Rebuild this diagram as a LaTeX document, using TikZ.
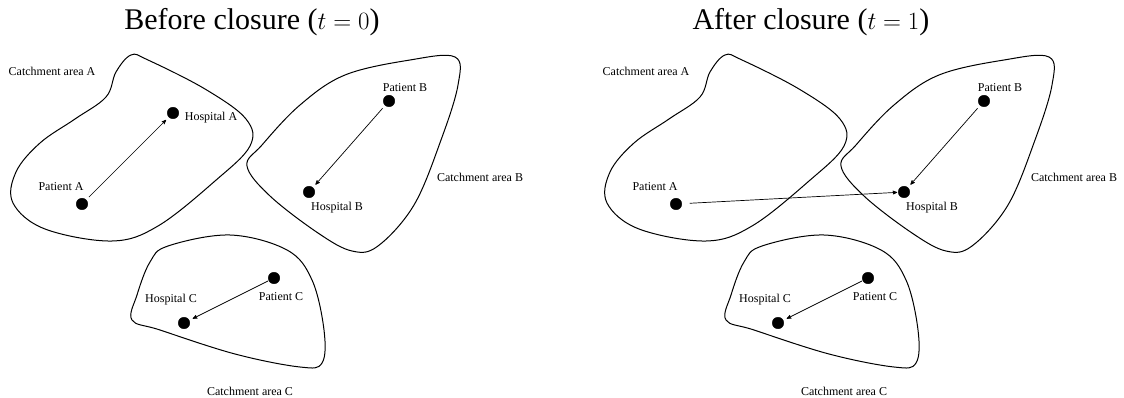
\documentclass[tikz,border=0pt]{standalone}
\usepackage{fontspec}
\setmainfont{Liberation Serif}
\usepackage{tikz}
\usetikzlibrary{arrows}
\tikzset{
  title/.style = {font=\fontsize{30}{36}\selectfont, inner sep=0pt},
  lbl/.style = {font=\fontsize{12}{14}\selectfont, inner sep=0pt},
  dot/.style = {circle, fill=black, draw=black, minimum size=11.5pt, inner sep=0pt, outer sep=0pt},
  area/.style = {line width=1pt, smooth cycle, tension=0.6},
  flow/.style = {->, >=stealth', line width=0.7pt, shorten >=4pt, shorten <=4pt}
}
\begin{document}
\begin{tikzpicture}[x=1pt,y=-1pt]
    \useasboundingbox (0,0) rectangle (1124,398);
    % before closure
    \node [title] (t0) at (252,22) {Before closure ($t=0$)};
    \draw [area] plot coordinates {(131,55) (116,72) (106,97) (75,119) (40,143) (16,172) (13,203) (45,229) (112,241) (158,226) (215,181) (250,146) (246,119) (205,89) (148,60)};
    \draw [area] plot coordinates {(455,57) (458,85) (441,140) (414,205) (378,246) (352,251) (318,233) (270,196) (247,166) (262,145) (300,105) (345,75) (410,60)};
    \draw [area] plot coordinates {(168,246) (230,235) (287,250) (312,280) (324,330) (322,363) (300,367) (235,354) (160,330) (132,320) (137,295) (150,262)};
    \node [lbl] (cA) at (52,71) {Catchment area A};
    \node [lbl] (cB) at (480,177) {Catchment area B};
    \node [lbl] (cC) at (250,391) {Catchment area C};
    \node [dot] (hA) at (173,113) {};
    \node [dot] (pA) at (82,204) {};
    \node [dot] (hB) at (309,192) {};
    \node [dot] (pB) at (389,101) {};
    \node [dot] (hC) at (184,323) {};
    \node [dot] (pC) at (274,278) {};
    \node [lbl] at ([shift={(38,5)}]hA) {Hospital A};
    \node [lbl] at ([shift={(-21,-17)}]pA) {Patient A};
    \node [lbl] at ([shift={(28,16)}]hB) {Hospital B};
    \node [lbl] at ([shift={(16,-13)}]pB) {Patient B};
    \node [lbl] at ([shift={(-13,-23)}]hC) {Hospital C};
    \node [lbl] at ([shift={(7,19)}]pC) {Patient C};
    \draw [flow] (pA) -- (hA);
    \draw [flow] (pB) -- (hB);
    \draw [flow, shorten <=1pt] (pC) -- (hC);
    % after closure
    \begin{scope}[xshift=594pt]
    \node [title] (t1) at (217,22) {After closure ($t=1$)};
    \draw [area] plot coordinates {(131,55) (116,72) (106,97) (75,119) (40,143) (16,172) (13,203) (45,229) (112,241) (158,226) (215,181) (250,146) (246,119) (205,89) (148,60)};
    \draw [area] plot coordinates {(455,57) (458,85) (441,140) (414,205) (378,246) (352,251) (318,233) (270,196) (247,166) (262,145) (300,105) (345,75) (410,60)};
    \draw [area] plot coordinates {(168,246) (230,235) (287,250) (312,280) (324,330) (322,363) (300,367) (235,354) (160,330) (132,320) (137,295) (150,262)};
    \node [lbl] (cA2) at (52,71) {Catchment area A};
    \node [lbl] (cB2) at (480,177) {Catchment area B};
    \node [lbl] (cC2) at (250,391) {Catchment area C};
    \node [dot] (pA2) at (82,204) {};
    \node [dot] (hB2) at (310,192) {};
    \node [dot] (pB2) at (390,101) {};
    \node [dot] (hC2) at (184,323) {};
    \node [dot] (pC2) at (274,278) {};
    \node [lbl] at ([shift={(-21,-17)}]pA2) {Patient A};
    \node [lbl] at ([shift={(28,16)}]hB2) {Hospital B};
    \node [lbl] at ([shift={(16,-13)}]pB2) {Patient B};
    \node [lbl] at ([shift={(-13,-23)}]hC2) {Hospital C};
    \node [lbl] at ([shift={(7,19)}]pC2) {Patient C};
    \draw [flow, shorten <=8pt, shorten >=1pt] (pA2) -- (hB2);
    \draw [flow] (pB2) -- (hB2);
    \draw [flow, shorten <=1pt] (pC2) -- (hC2);
    \end{scope}
\end{tikzpicture}
\end{document}
